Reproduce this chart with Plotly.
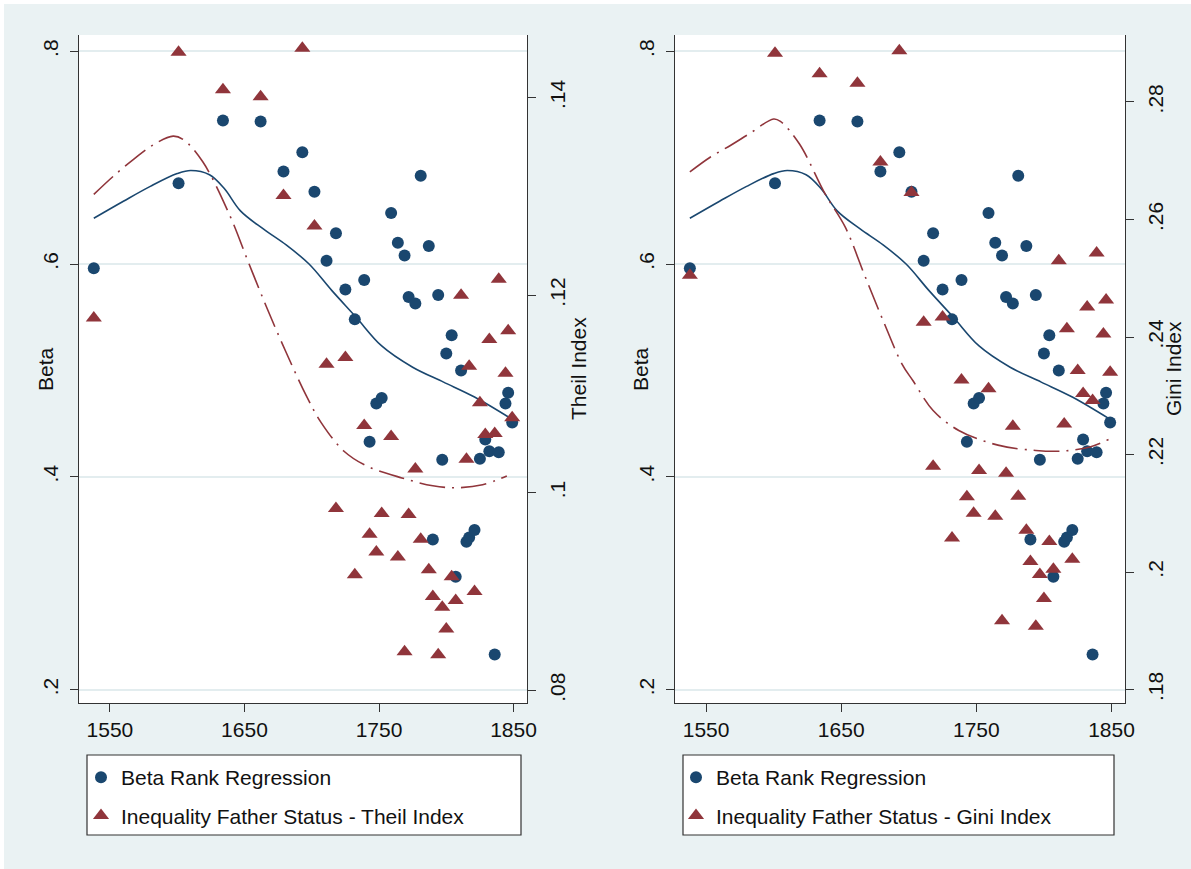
import plotly.graph_objects as go

# ---------------- data ----------------
years = [1538, 1601, 1634, 1662, 1679, 1693, 1702, 1711, 1718, 1725,
         1732, 1739, 1743, 1748, 1752, 1759, 1764, 1769, 1772, 1777,
         1781, 1787, 1790, 1794, 1797, 1800, 1804, 1807, 1811, 1815,
         1817, 1821, 1825, 1829, 1832, 1836, 1839, 1844, 1846, 1849]

beta = [0.596, 0.676, 0.735, 0.734, 0.687, 0.705, 0.668, 0.603, 0.629, 0.576,
        0.548, 0.585, 0.433, 0.469, 0.474, 0.648, 0.620, 0.608, 0.569, 0.563,
        0.683, 0.617, 0.341, 0.571, 0.416, 0.516, 0.533, 0.306, 0.500, 0.339,
        0.343, 0.350, 0.417, 0.435, 0.424, 0.233, 0.423, 0.469, 0.479, 0.451]

theil = [0.1177, 0.1446, 0.1408, 0.1401, 0.1301, 0.1450, 0.1270, 0.1130, 0.0984, 0.1137,
         0.0917, 0.1068, 0.0958, 0.0940, 0.0979, 0.1057, 0.0935, 0.0839, 0.0978, 0.1024,
         0.0953, 0.0922, 0.0895, 0.0836, 0.0884, 0.0862, 0.0915, 0.0891, 0.1200, 0.1034,
         0.1128, 0.0900, 0.1091, 0.1059, 0.1155, 0.1060, 0.1216, 0.1121, 0.1164, 0.1076]

gini = [0.2505, 0.2883, 0.2848, 0.2832, 0.2698, 0.2887, 0.2646, 0.2425, 0.2180, 0.2434,
        0.2058, 0.2327, 0.2128, 0.2100, 0.2173, 0.2312, 0.2095, 0.1917, 0.2168, 0.2248,
        0.2129, 0.2071, 0.2018, 0.1908, 0.1996, 0.1955, 0.2052, 0.2005, 0.2530, 0.2252,
        0.2414, 0.2022, 0.2343, 0.2304, 0.2451, 0.2292, 0.2543, 0.2405, 0.2463, 0.2340]

# smoothed (lowess) curves
beta_fit_years = [1538, 1560, 1580, 1600, 1610, 1624, 1635, 1647, 1664, 1681,
                  1698, 1715, 1733, 1752, 1775, 1798, 1821, 1849]
beta_fit = [0.643, 0.659, 0.673, 0.685, 0.688, 0.684, 0.671, 0.650, 0.633, 0.618,
            0.600, 0.575, 0.550, 0.523, 0.503, 0.489, 0.475, 0.454]

theil_fit_years = [1538, 1553, 1568, 1582, 1597, 1605, 1619, 1639, 1653, 1667,
                   1681, 1696, 1707, 1724, 1741, 1767, 1790, 1807, 1827, 1845]
theil_fit = [0.1302, 0.1321, 0.1338, 0.1352, 0.1361, 0.1357, 0.1335, 0.1281, 0.1233, 0.1186,
             0.1142, 0.1098, 0.1071, 0.1042, 0.1027, 0.1015, 0.1007, 0.1005, 0.1008, 0.1017]

gini_fit_years = [1538, 1553, 1568, 1582, 1600, 1605, 1619, 1638, 1653, 1667,
                  1681, 1695, 1703, 1718, 1737, 1766, 1794, 1814, 1834, 1849]
gini_fit = [0.2681, 0.2706, 0.2726, 0.2746, 0.2771, 0.2767, 0.2729, 0.2644, 0.2587, 0.2507,
            0.2428, 0.2354, 0.2326, 0.2275, 0.2241, 0.2216, 0.2207, 0.2206, 0.2213, 0.2227]

x_ticks = [1550, 1650, 1750, 1850]
beta_ticks = [0.2, 0.4, 0.6, 0.8]
beta_labels = [".2", ".4", ".6", ".8"]
theil_ticks = [0.08, 0.10, 0.12, 0.14]
theil_labels = [".08", ".1", ".12", ".14"]
gini_ticks = [0.18, 0.20, 0.22, 0.24, 0.26, 0.28]
gini_labels = [".18", ".2", ".22", ".24", ".26", ".28"]

# ---------------- style ----------------
W, H = 1191, 869
NAVY = "#1A476F"
MAROON = "#90353B"
BG = "#EAF2F3"
GRID = "#E3EDEF"
AX = "#333333"
FONT = "Liberation Sans, Arial, sans-serif"
FS = 21
CIRC = 12
TRI = 14

def px(x):
    return x / W

def py(y):
    return 1 - y / H

fig = go.Figure()

# left panel
fig.add_trace(go.Scatter(x=years, y=beta, mode="markers", xaxis="x", yaxis="y",
                         marker=dict(symbol="circle", size=CIRC, color=NAVY),
                         name="Beta Rank Regression", legend="legend", legendgroup="a"))
fig.add_trace(go.Scatter(x=beta_fit_years, y=beta_fit, mode="lines", xaxis="x", yaxis="y",
                         line=dict(color=NAVY, width=1.6, shape="spline"), showlegend=False))
fig.add_trace(go.Scatter(x=years, y=theil, mode="markers", xaxis="x", yaxis="y2",
                         marker=dict(symbol="triangle-up", size=TRI, color=MAROON),
                         name="Inequality Father Status - Theil Index", legend="legend", legendgroup="b"))
fig.add_trace(go.Scatter(x=theil_fit_years, y=theil_fit, mode="lines", xaxis="x", yaxis="y2",
                         line=dict(color=MAROON, width=1.6, dash="26px,7px,2px,7px", shape="spline"),
                         showlegend=False))

# right panel
fig.add_trace(go.Scatter(x=years, y=beta, mode="markers", xaxis="x2", yaxis="y3",
                         marker=dict(symbol="circle", size=CIRC, color=NAVY),
                         name="Beta Rank Regression", legend="legend2", legendgroup="c"))
fig.add_trace(go.Scatter(x=beta_fit_years, y=beta_fit, mode="lines", xaxis="x2", yaxis="y3",
                         line=dict(color=NAVY, width=1.6, shape="spline"), showlegend=False))
fig.add_trace(go.Scatter(x=years, y=gini, mode="markers", xaxis="x2", yaxis="y4",
                         marker=dict(symbol="triangle-up", size=TRI, color=MAROON),
                         name="Inequality Father Status - Gini Index", legend="legend2", legendgroup="d"))
fig.add_trace(go.Scatter(x=gini_fit_years, y=gini_fit, mode="lines", xaxis="x2", yaxis="y4",
                         line=dict(color=MAROON, width=1.6, dash="26px,7px,2px,7px", shape="spline"),
                         showlegend=False))

tickfont = dict(family=FONT, size=FS, color="#111111")
xcommon = dict(range=[1527, 1860], tickvals=x_ticks, ticks="outside", ticklen=8, tickwidth=1,
               tickcolor=AX, showline=True, linecolor=AX, linewidth=1, showgrid=False,
               zeroline=False, tickfont=tickfont, automargin=False, ticklabelstandoff=0)
ycommon = dict(ticks="outside", ticklen=8, tickwidth=1, tickcolor=AX, showline=True,
               linecolor=AX, linewidth=1, zeroline=False, tickangle=-90, tickfont=tickfont,
               automargin=False, ticklabelstandoff=4)

ydom = [py(703), py(35)]
fig.update_layout(
    width=W, height=H,
    margin=dict(l=0, r=0, t=0, b=0),
    paper_bgcolor=BG, plot_bgcolor="white",
    font=dict(family=FONT, size=FS, color="#111111"),
    xaxis=dict(domain=[px(79), px(527)], anchor="y", **xcommon),
    yaxis=dict(domain=ydom, anchor="x", range=[0.1874, 0.8153], tickvals=beta_ticks,
               ticktext=beta_labels, showgrid=True, gridcolor=GRID, gridwidth=1.6, side="left", **ycommon),
    yaxis2=dict(overlaying="y", anchor="x", side="right", range=[0.07871, 0.14634],
                tickvals=theil_ticks, ticktext=theil_labels, showgrid=False, **ycommon),
    xaxis2=dict(domain=[px(675), px(1125)], anchor="y3", **xcommon),
    yaxis3=dict(domain=ydom, anchor="x2", range=[0.1874, 0.8153], tickvals=beta_ticks,
                ticktext=beta_labels, showgrid=True, gridcolor=GRID, gridwidth=1.6, side="left", **ycommon),
    yaxis4=dict(overlaying="y3", anchor="x2", side="right", range=[0.17772, 0.2914],
                tickvals=gini_ticks, ticktext=gini_labels, showgrid=False, **ycommon),
    legend=dict(x=px(81), y=py(757), xanchor="left", yanchor="top", bgcolor="rgba(0,0,0,0)",
                borderwidth=0, font=dict(family=FONT, size=FS, color="#111111"),
                tracegroupgap=8, itemsizing="trace"),
    legend2=dict(x=px(676), y=py(757), xanchor="left", yanchor="top", bgcolor="rgba(0,0,0,0)",
                 borderwidth=0, font=dict(family=FONT, size=FS, color="#111111"),
                 tracegroupgap=8, itemsizing="trace"),
    showlegend=True,
)

# axis titles
for xpos, text in [(45, "Beta"), (578, "Theil Index"), (640, "Beta"), (1173, "Gini Index")]:
    fig.add_annotation(x=px(xpos), y=py(369), xref="paper", yref="paper", text=text,
                       showarrow=False, textangle=-90, xanchor="center", yanchor="middle",
                       font=dict(family=FONT, size=FS, color="#111111"))

shapes = []
# legend boxes
for x0, x1 in [(87, 521), (683, 1114)]:
    shapes.append(dict(type="rect", xref="paper", yref="paper", x0=px(x0), x1=px(x1),
                       y0=py(835), y1=py(755), fillcolor="white",
                       line=dict(color=AX, width=1.2), layer="below"))
# thin white page strips at the top and left edge
shapes.append(dict(type="rect", xref="paper", yref="paper", x0=0, x1=1, y0=py(4), y1=1,
                   fillcolor="white", line=dict(width=0), layer="above"))
shapes.append(dict(type="rect", xref="paper", yref="paper", x0=0, x1=px(4), y0=0, y1=1,
                   fillcolor="white", line=dict(width=0), layer="above"))
fig.update_layout(shapes=shapes)

fig.write_html("out.html")
